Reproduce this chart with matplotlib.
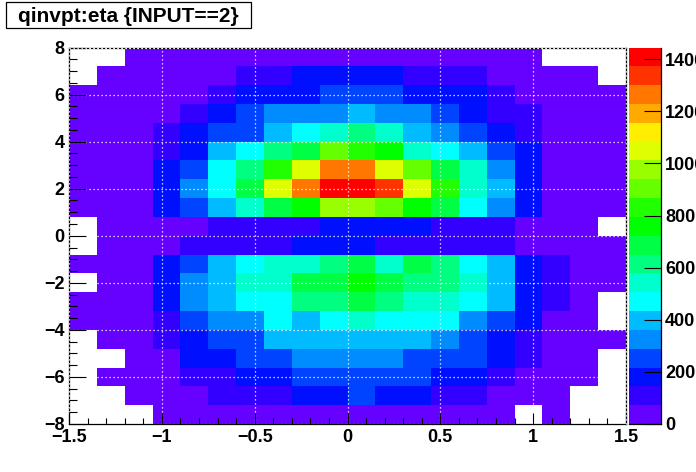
import numpy as np
import matplotlib
matplotlib.use("Agg")
import matplotlib.pyplot as plt
from matplotlib.colors import ListedColormap, BoundaryNorm
from matplotlib.patches import Rectangle
from matplotlib.ticker import MultipleLocator, FixedLocator, FixedFormatter

plt.rcParams['font.family'] = ['Liberation Sans', 'DejaVu Sans']
plt.rcParams['font.weight'] = 'bold'

title = "qinvpt:eta {INPUT==2}"
N = np.nan
x_edges = np.linspace(-1.5, 1.5, 21)
y_edges = np.linspace(8, -8, 21)
z_max = 1445
x_ticks = [-1.5, -1, -0.5, 0, 0.5, 1, 1.5]
x_tick_labels = ['\u22121.5', '\u22121', '\u22120.5', '0', '0.5', '1', '1.5']

row00 = [N,N,36,36,36,36,36,36,36,36,36,36,36,36,36,36,36,N,N,N]
row01 = [N,36,36,36,36,36,109,109,182,182,182,182,109,109,109,36,36,36,36,N]
row02 = [36,36,36,36,36,109,182,182,182,254,254,254,182,182,182,109,36,36,36,36]
row03 = [36,36,36,36,109,182,254,327,327,327,400,327,327,254,182,109,109,36,36,36]
row04 = [36,36,36,109,182,254,254,400,473,545,618,545,400,327,254,182,109,36,36,36]
row05 = [36,36,36,109,182,400,473,618,691,909,836,763,545,473,400,254,182,36,36,36]
row06 = [36,36,36,182,254,473,618,836,1054,1272,1272,1054,909,691,545,327,182,36,36,36]
row07 = [36,36,36,182,327,473,691,1054,1272,1418,1418,1345,1054,836,545,400,182,36,36,36]
row08 = [36,36,36,182,254,400,545,691,763,981,981,909,763,691,473,327,182,36,36,36]
row09 = [N,36,36,36,36,109,109,109,109,182,182,182,182,109,109,109,36,36,36,N]
row10 = [N,36,36,36,109,109,109,109,182,182,182,109,109,109,109,109,36,36,36,36]
row11 = [36,36,36,182,254,400,473,545,545,618,691,545,691,618,473,400,182,109,36,36]
row12 = [N,36,36,182,327,400,545,545,691,691,763,691,618,618,545,400,182,109,36,36]
row13 = [36,36,36,182,327,400,473,473,618,618,691,618,545,545,473,400,182,109,36,N]
row14 = [36,36,36,109,254,327,327,473,400,473,545,473,473,473,327,254,182,36,36,N]
row15 = [N,36,36,109,182,254,254,400,400,400,400,400,400,327,254,182,109,36,36,36]
row16 = [N,N,36,36,182,182,254,254,327,327,327,327,254,254,254,182,109,36,36,N]
row17 = [N,36,36,36,109,109,182,182,254,254,254,254,254,182,182,109,36,36,36,N]
row18 = [N,N,36,36,36,109,109,109,182,182,254,182,182,109,109,36,36,36,N,N]
row19 = [N,N,N,36,36,36,36,36,36,36,36,36,36,36,36,36,N,36,N,N]
rows = [row00,row01,row02,row03,row04,row05,row06,row07,row08,row09,
        row10,row11,row12,row13,row14,row15,row16,row17,row18,row19]

palette = ['#6600ff','#3300ff','#0010ff','#0044ff','#008cff','#00bbff','#00ffff',
           '#00ffcc','#00ff80','#00ff44','#00ff00','#22ff00','#66ff00','#99ff00',
           '#ddff00','#ffee00','#ffaa00','#ff7700','#ff3300','#ff0000']

W, H = 696, 472
fig = plt.figure(figsize=(W/100, H/100), dpi=100, facecolor='white')
def box(l, t, r, b):
    return [l/W, 1-b/H, (r-l)/W, (b-t)/H]

ax = fig.add_axes(box(69, 47.5, 626, 424))
cax = fig.add_axes(box(629, 47.5, 661, 424))

bounds = np.linspace(0, z_max, 21)
cmap = ListedColormap(palette)
cmap.set_bad('white')
norm = BoundaryNorm(bounds, cmap.N)
Z = np.ma.masked_invalid(np.array(rows, dtype=float))
mesh = ax.pcolormesh(x_edges, y_edges, Z, cmap=cmap, norm=norm,
                     antialiased=False, linewidth=0)
ax.set_xlim(-1.5, 1.5)
ax.set_ylim(-8, 8)

ax.xaxis.set_major_locator(FixedLocator(x_ticks))
ax.xaxis.set_major_formatter(FixedFormatter(x_tick_labels))
ax.xaxis.set_minor_locator(MultipleLocator(0.1))
ax.yaxis.set_major_locator(MultipleLocator(2))
ax.yaxis.set_minor_locator(MultipleLocator(0.5))
ax.tick_params(axis='x', which='major', direction='in', length=7.9, width=0.8,
               labelsize=13, pad=3.5, top=False)
ax.tick_params(axis='x', which='minor', direction='in', length=4, width=0.8, top=False)
ax.tick_params(axis='y', which='major', direction='in', length=12, width=0.8,
               labelsize=13, pad=3, right=False)
ax.tick_params(axis='y', which='minor', direction='in', length=5.8, width=0.8, right=False)
for s in ax.spines.values():
    s.set_linewidth(0.9)

ax.set_axisbelow(False)
dots = (0, (1, 2.2))
ax.grid(True, which='major', color='white', linewidth=0.9, linestyle=dots)
ax.axhline(8, color='white', linewidth=0.9, linestyle=dots, clip_on=False, zorder=5)
ax.axvline(1.5, color='white', linewidth=0.9, linestyle=dots, clip_on=False, zorder=5)

cb = fig.colorbar(mesh, cax=cax, spacing='proportional', boundaries=bounds,
                  ticks=np.arange(0, 1401, 200), drawedges=False)
cb.solids.set_antialiased(False)
cb.minorticks_off()
cax.tick_params(axis='y', which='major', direction='in', length=12, width=0.8,
                labelsize=13, pad=3, right=True, left=False)
cb.outline.set_visible(False)
cax.spines['right'].set_visible(True)
cax.spines['right'].set_linewidth(0.9)
cax.spines['bottom'].set_visible(True)
cax.spines['bottom'].set_linewidth(0.9)

fig.add_artist(Rectangle((6/W, 1-28/H), 245/W, 26/H, transform=fig.transFigure,
                         facecolor='white', edgecolor='black', linewidth=0.9))
fig.text(128.5/W, 1-15/H, title, ha='center', va='center_baseline', fontsize=15,
         fontweight='bold', color='black')

fig.savefig('out.png', dpi=100, facecolor='white')
